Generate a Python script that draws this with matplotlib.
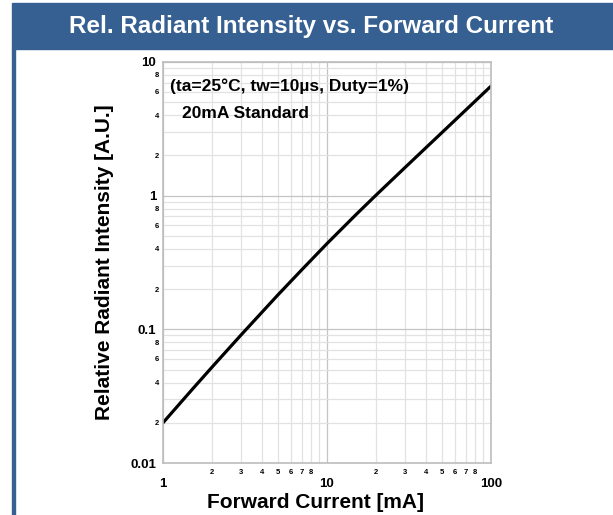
import matplotlib.pyplot as plt
from matplotlib.patches import Rectangle
from matplotlib.ticker import FixedLocator, FuncFormatter

plt.rcParams['font.family'] = ['Liberation Sans', 'DejaVu Sans']
plt.rcParams['font.weight'] = 'bold'

# curve
current_ma = [1, 1.5, 2, 3, 5, 7, 10, 15, 20, 30, 50, 70, 100]
rel_intensity = [0.02, 0.0353, 0.0525, 0.0911, 0.18, 0.278, 0.438, 0.72,
                 1.015, 1.63, 2.95, 4.36, 6.6]

title = "Rel. Radiant Intensity vs. Forward Current"
note1 = "(ta=25\u00b0C, tw=10\u00b5s, Duty=1%)"
note2 = "20mA Standard"

x_major = [1, 10, 100]
y_major = [0.01, 0.1, 1, 10]
x_minor_labels = [2, 3, 4, 5, 6, 7, 8]
y_minor_labels = [2, 4, 6, 8]

W, H = 613, 515
fig = plt.figure(figsize=(W / 100, H / 100), dpi=100)

# header band and left frame line
blue = '#365f92'
fig.patches.append(Rectangle((12 / W, 1 - 49 / H), 1 - 12 / W, 46 / H,
                             transform=fig.transFigure, color=blue, zorder=0))
fig.patches.append(Rectangle((12 / W, 0), 2.5 / W, 1 - 49 / H,
                             transform=fig.transFigure, color=blue, zorder=0))
fig.text(311 / W, 1 - 26 / H, title, color='white', fontsize=17.5,
         fontweight='bold', ha='center', va='center')

ax = fig.add_axes([163 / W, 1 - 463 / H, 328 / W, 401 / H])
ax.plot(current_ma, rel_intensity, color='black', lw=2.3, solid_capstyle='round')
ax.set_xscale('log')
ax.set_yscale('log')
ax.set_xlim(1, 100)
ax.set_ylim(0.01, 10)

minor_x = [m * d for d in [1, 10] for m in range(2, 10)]
minor_y = [m * d for d in [0.01, 0.1, 1] for m in range(2, 10)]
ax.xaxis.set_major_locator(FixedLocator(x_major))
ax.yaxis.set_major_locator(FixedLocator(y_major))
ax.xaxis.set_minor_locator(FixedLocator(minor_x))
ax.yaxis.set_minor_locator(FixedLocator(minor_y))


def fmt_major(v, pos):
    return f"{v:g}"


def minor_digit(v, decades, keep):
    for d in decades:
        m = v / d
        if 1.5 < m < 9.5:
            m = int(round(m))
            return str(m) if m in keep else ""
    return ""


ax.xaxis.set_major_formatter(FuncFormatter(fmt_major))
ax.yaxis.set_major_formatter(FuncFormatter(fmt_major))
ax.xaxis.set_minor_formatter(FuncFormatter(lambda v, p: minor_digit(v, [1, 10], x_minor_labels)))
ax.yaxis.set_minor_formatter(FuncFormatter(lambda v, p: minor_digit(v, [0.01, 0.1, 1], y_minor_labels)))

ax.tick_params(which='both', length=0)
ax.tick_params(axis='x', which='major', labelsize=9.5, pad=11)
ax.tick_params(axis='x', which='minor', labelsize=5.5, pad=4)
ax.tick_params(axis='y', which='major', labelsize=9.5, pad=5)
ax.tick_params(axis='y', which='minor', labelsize=5.5, pad=3)

ax.grid(True, which='major', color='#c4c4c4', lw=0.9)
ax.grid(True, which='minor', color='#e2e2e2', lw=0.9)
ax.set_axisbelow(True)
for s in ax.spines.values():
    s.set_color('#bdbdbd')
    s.set_linewidth(1.2)

ax.set_xlabel("Forward Current [mA]", fontsize=15, fontweight='bold')
ax.xaxis.set_label_coords(0.465, -0.075)
ax.set_ylabel("Relative Radiant Intensity [A.U.]", fontsize=15, fontweight='bold',
              labelpad=12)

ax.text(170 / W, 1 - 86 / H, note1, transform=fig.transFigure, fontsize=12.5,
        fontweight='bold', va='center')
ax.text(182 / W, 1 - 114 / H, note2, transform=fig.transFigure, fontsize=12.5,
        fontweight='bold', va='center')

fig.savefig('out.png', dpi=100)
